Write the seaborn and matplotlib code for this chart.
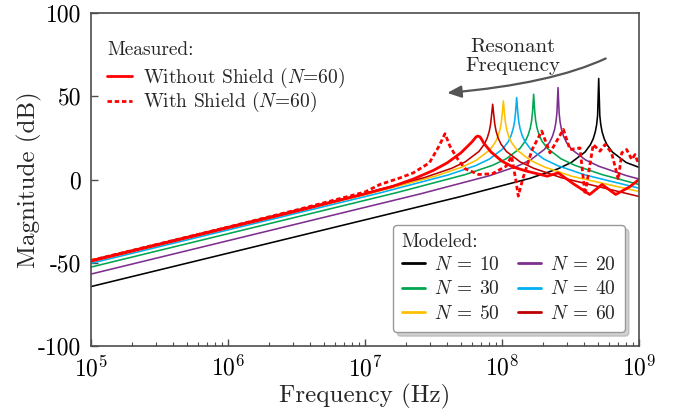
import matplotlib
matplotlib.use("Agg")
import matplotlib.pyplot as plt
import seaborn as sns
from matplotlib.lines import Line2D
from matplotlib.ticker import FixedLocator, FixedFormatter, LogLocator, NullFormatter

# ---------------- data ----------------
# Modeled magnitude responses (frequency in Hz, magnitude in dB)
n10_freq = [1e5, 5.08e7, 1.606e8, 2.546e8, 3.205e8, 4.035e8, 4.424e8, 4.633e8, 4.796e8, 4.908e8,
            4.987e8, 5.08e8, 5.174e8, 5.258e8, 5.381e8, 5.570e8, 5.832e8, 6.395e8, 8.051e8, 1e9]
n10_mag = [-64.3, -10.09, 0.74, 6.33, 10.23, 16.48, 20.98, 24.51, 28.57, 33.02,
           38.46, 60.7, 38.46, 33.02, 28.57, 24.51, 20.98, 16.48, 10.23, 7.3]

n20_freq = [1e5, 2.564e7, 8.108e7, 1.285e8, 1.618e8, 2.037e8, 2.233e8, 2.338e8, 2.421e8, 2.477e8,
            2.517e8, 2.564e8, 2.612e8, 2.654e8, 2.716e8, 2.811e8, 2.944e8, 3.228e8, 4.064e8,
            5.116e8, 8.108e8, 1e9]
n20_mag = [-56.8, -8.53, 2.30, 7.89, 11.79, 18.04, 22.54, 26.07, 30.13, 34.58,
           40.02, 55.2, 40.02, 34.58, 30.13, 26.07, 22.54, 18.04, 11.79,
           7.89, 2.30, 0.3]

n30_freq = [1e5, 1.702e7, 5.382e7, 8.530e7, 1.074e8, 1.352e8, 1.482e8, 1.552e8, 1.607e8, 1.644e8,
            1.671e8, 1.702e8, 1.734e8, 1.762e8, 1.803e8, 1.866e8, 1.954e8, 2.143e8, 2.698e8,
            3.396e8, 5.382e8, 1e9]
n30_mag = [-52.6, -7.89, 2.94, 8.53, 12.43, 18.68, 23.18, 26.71, 30.77, 35.22,
           40.66, 51.2, 40.66, 35.22, 30.77, 26.71, 23.18, 18.68, 12.43,
           8.53, 2.94, -3.0]

n40_freq = [1e5, 1.279e7, 4.045e7, 6.410e7, 8.070e7, 1.016e8, 1.114e8, 1.166e8, 1.207e8, 1.236e8,
            1.256e8, 1.279e8, 1.303e8, 1.324e8, 1.355e8, 1.402e8, 1.468e8, 1.610e8, 2.027e8,
            2.552e8, 4.045e8, 1e9]
n40_mag = [-50.34, -8.11, 2.72, 8.31, 12.21, 18.46, 22.96, 26.49, 30.55, 35.0,
           40.44, 49.2, 40.44, 35.0, 30.55, 26.49, 22.96, 18.46, 12.21,
           8.31, 2.72, -5.2]

n50_freq = [1e5, 1.023e7, 3.235e7, 5.127e7, 6.455e7, 8.126e7, 8.910e7, 9.330e7, 9.658e7, 9.883e7,
            1.0043e8, 1.023e8, 1.0420e8, 1.0590e8, 1.0836e8, 1.1217e8, 1.1746e8, 1.2879e8, 1.6213e8,
            2.0412e8, 3.2350e8, 1e9]
n50_mag = [-49.2, -8.91, 1.92, 7.51, 11.41, 17.66, 22.16, 25.69, 29.75, 34.2,
           39.64, 47.2, 39.64, 34.2, 29.75, 25.69, 22.16, 17.66, 11.41,
           7.51, 1.92, -7.2]

n60_freq = [1e5, 8.55e6, 2.704e7, 4.285e7, 5.395e7, 6.792e7, 7.447e7, 7.798e7, 8.072e7, 8.260e7,
            8.394e7, 8.55e7, 8.709e7, 8.850e7, 9.057e7, 9.375e7, 9.817e7, 1.0764e8, 1.3551e8,
            1.7060e8, 2.7037e8, 1e9]
n60_mag = [-48.44, -9.71, 1.12, 6.71, 10.61, 16.86, 21.36, 24.89, 28.95, 33.4,
           38.84, 45.2, 38.84, 33.4, 28.95, 24.89, 21.36, 16.86, 10.61,
           6.71, 1.12, -10.2]

# Measured responses, N = 60
no_shield_freq = [1e5, 1e6, 3.162e6, 1e7, 1.585e7, 2.239e7, 3.162e7, 3.981e7, 5.012e7, 6.026e7,
                  6.457e7, 6.65e7, 6.918e7, 7.413e7, 8.318e7, 1e8, 1.202e8, 1.514e8, 2.138e8,
                  2.570e8, 3.311e8, 4.365e8, 5.370e8, 6.761e8, 8.511e8, 1e9]
no_shield_mag = [-49.0, -29.0, -19.0, -8.6, -4.2, 0.2, 5.5, 10.0, 16.0, 22.5,
                 25.5, 26.1, 25.6, 21.5, 16.5, 11.0, 7.5, 5.0, 2.0,
                 4.0, -2.5, -9.0, -3.0, -9.0, -4.5, 0.0]

shield_freq = [1e5, 1e6, 3.162e6, 1e7, 1.285e7, 1.778e7, 2.254e7, 2.951e7, 3.467e7, 3.837e7,
               4.169e7, 4.677e7, 5.370e7, 6.761e7, 8.511e7, 1.072e8, 1.175e8, 1.259e8, 1.315e8,
               1.413e8, 1.660e8, 1.950e8, 2.239e8, 2.805e8, 3.133e8, 3.707e8, 4.036e8, 4.634e8,
               5.188e8, 5.649e8, 6.310e8, 7.063e8, 7.482e8, 8.128e8, 8.851e8, 9.354e8, 9.840e8]
shield_mag = [-48.6, -28.6, -18.3, -7.5, -3.0, 0.8, 4.0, 10.0, 20.0, 27.5,
              20.0, 13.0, 6.5, 3.0, 3.5, 8.0, 14.0, 0.0, -10.0,
              0.0, 18.0, 29.1, 16.0, 30.1, 18.0, 19.0, -9.0, 21.0,
              17.0, 21.0, 16.0, 0.0, 16.0, 18.0, 12.0, 15.0, 10.0]

modeled_labels = ["10", "20", "30", "40", "50", "60"]
modeled_colors = ["#000000", "#7E2F8E", "#00A651", "#00B0F0", "#FFC000", "#C00000"]
measured_labels = ["Without Shield ($N$=60)", "With Shield ($N$=60)"]
measured_color = "#FF0000"

x_ticks = [1e5, 1e6, 1e7, 1e8, 1e9]
x_tick_labels = ["$10^{5}$", "$10^{6}$", "$10^{7}$", "$10^{8}$", "$10^{9}$"]
y_ticks = [-100, -50, 0, 50, 100]
y_tick_labels = ["-100", "-50", "0", "50", "100"]

# ---------------- style ----------------
sns.set_theme(style="white")
plt.rcParams.update({
    "font.family": "serif",
    "font.serif": ["cmr10"],
    "mathtext.fontset": "cm",
    "axes.unicode_minus": False,
    "axes.formatter.use_mathtext": True,
})

fig = plt.figure(figsize=(6.8, 4.18), dpi=100)
ax = fig.add_axes([91 / 680, 1 - 346 / 418, 548 / 680, 333 / 418])

modeled = [(n10_freq, n10_mag), (n20_freq, n20_mag), (n30_freq, n30_mag),
           (n40_freq, n40_mag), (n50_freq, n50_mag), (n60_freq, n60_mag)]
for (f, m), c in zip(modeled, modeled_colors):
    sns.lineplot(x=f, y=m, color=c, lw=1.15, sort=False, estimator=None, ax=ax)

sns.lineplot(x=no_shield_freq, y=no_shield_mag, color=measured_color, lw=2.0,
             sort=False, estimator=None, ax=ax)
sns.lineplot(x=shield_freq, y=shield_mag, color=measured_color, lw=2.0,
             linestyle=(0, (1.6, 1.0)), sort=False, estimator=None, ax=ax)

ax.set_xscale("log")
ax.set_xlim(1e5, 1e9)
ax.set_ylim(-100, 100)
ax.xaxis.set_major_locator(FixedLocator(x_ticks))
ax.xaxis.set_major_formatter(FixedFormatter(x_tick_labels))
ax.xaxis.set_minor_locator(LogLocator(base=10, subs=range(2, 10)))
ax.xaxis.set_minor_formatter(NullFormatter())
ax.yaxis.set_major_locator(FixedLocator(y_ticks))
ax.yaxis.set_major_formatter(FixedFormatter(y_tick_labels))

ax.tick_params(which="both", direction="in", colors="#4d4d4d", labelcolor="black",
               bottom=True, left=True, top=False, right=False)
ax.tick_params(which="major", length=5, width=1.0, labelsize=17, pad=7)
ax.tick_params(which="minor", length=3, width=0.8)
for s in ax.spines.values():
    s.set_color("#4d4d4d")
    s.set_linewidth(1.2)

ax.set_xlabel("Frequency (Hz)", fontsize=18, labelpad=2)
ax.set_ylabel("Magnitude (dB)", fontsize=18, labelpad=-3)

# legends
meas_handles = [Line2D([], [], color=measured_color, lw=2.0),
                Line2D([], [], color=measured_color, lw=2.0, linestyle=(0, (1.6, 1.0)))]
leg1 = ax.legend(meas_handles, measured_labels, title="Measured:", loc="upper left",
                 bbox_to_anchor=(0.029, 0.915), borderaxespad=0, borderpad=0,
                 frameon=False, fontsize=14, title_fontsize=14, alignment="left",
                 handlelength=1.3, handletextpad=0.55, labelspacing=0.0)
leg1._legend_box.sep = 5
ax.add_artist(leg1)

order = [0, 2, 4, 1, 3, 5]
mod_handles = [Line2D([], [], color=modeled_colors[i], lw=2.0) for i in order]
mod_labels = [rf"$N\:=\:{modeled_labels[i]}$" for i in order]
leg2 = ax.legend(mod_handles, mod_labels, title="Modeled:", ncol=2, loc="lower right",
                 bbox_to_anchor=(0.974, 0.042), borderaxespad=0, frameon=True,
                 fancybox=True, shadow={"ox": 3, "oy": -3, "color": "0.6", "alpha": 0.45},
                 edgecolor="#999999", facecolor="white", framealpha=1,
                 fontsize=14, title_fontsize=14, alignment="left",
                 handlelength=1.2, handletextpad=0.45, columnspacing=0.95,
                 labelspacing=0.35, borderpad=0.45)
leg2._legend_box.sep = 3

# resonant frequency arrow
ax.annotate("", xy=(10 ** 7.6, 52.0), xytext=(10 ** 8.757, 72.7),
            arrowprops=dict(arrowstyle="-|>,head_length=0.7,head_width=0.3",
                            color="#555555", lw=1.6, shrinkA=0, shrinkB=0,
                            connectionstyle="angle3,angleA=25,angleB=5"),
            annotation_clip=False)
ax.text(10 ** 8.08, 73.8, "Resonant\nFrequency", ha="center", va="center",
        fontsize=15, linespacing=1.1)

fig.savefig("out.png", dpi=100)
